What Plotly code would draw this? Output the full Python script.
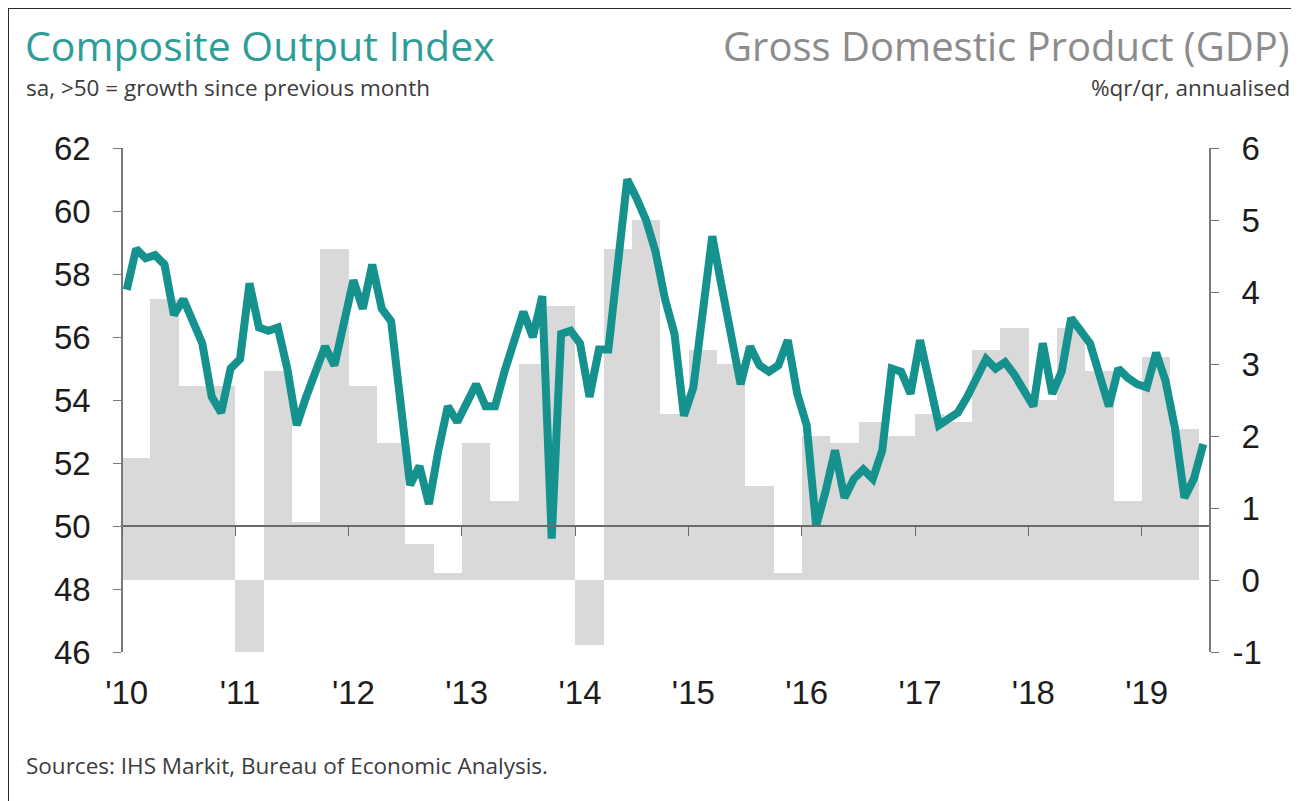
import plotly.graph_objects as go

# ---------------- data ----------------
# IHS Markit US Composite Output Index, monthly Jan 2010 .. Jul 2019
pmi = [
    57.5, 58.8, 58.5, 58.6, 58.3, 56.7, 57.2, 56.5, 55.8, 54.1, 53.6, 55.0,   # 2010
    55.3, 57.7, 56.3, 56.2, 56.3, 55.0, 53.2, 54.1, 54.9, 55.7, 55.1, 56.4,   # 2011
    57.8, 56.9, 58.3, 56.9, 56.5, 53.9, 51.3, 51.9, 50.7, 52.4, 53.8, 53.3,   # 2012
    53.9, 54.5, 53.8, 53.8, 54.9, 55.8, 56.8, 56.0, 57.3, 49.6, 56.1, 56.2,   # 2013
    55.8, 54.1, 55.6, 55.6, 58.3, 61.0, 60.4, 59.7, 58.7, 57.2, 56.1, 53.5,   # 2014
    54.4, 56.8, 59.2, 57.6, 56.1, 54.5, 55.7, 55.1, 54.9, 55.1, 55.9, 54.2,   # 2015
    53.2, 50.0, 51.1, 52.4, 50.9, 51.5, 51.8, 51.5, 52.4, 55.0, 54.9, 54.2,   # 2016
    55.9, 54.6, 53.2, 53.4, 53.6, 54.1, 54.7, 55.3, 55.0, 55.2, 54.8, 54.3,   # 2017
    53.8, 55.8, 54.2, 54.9, 56.6, 56.2, 55.8, 54.8, 53.8, 55.0, 54.7, 54.5,   # 2018
    54.4, 55.5, 54.6, 53.1, 50.9, 51.5, 52.6,                                 # 2019
]

# GDP, % q/q annualised, quarterly 2010Q1 .. 2019Q2
gdp = [
    1.7, 3.9, 2.7, 2.7,     # 2010
    -1.0, 2.9, 0.8, 4.6,    # 2011
    2.7, 1.9, 0.5, 0.1,     # 2012
    1.9, 1.1, 3.0, 3.8,     # 2013
    -0.9, 4.6, 5.0, 2.3,    # 2014
    3.2, 3.0, 1.3, 0.1,     # 2015
    2.0, 1.9, 2.2, 2.0,     # 2016
    2.3, 2.2, 3.2, 3.5,     # 2017
    2.5, 3.5, 2.9, 1.1,     # 2018
    3.1, 2.1,               # 2019
]

year_labels = ["'10", "'11", "'12", "'13", "'14", "'15", "'16", "'17", "'18", "'19"]
left_ticks = [46, 48, 50, 52, 54, 56, 58, 60, 62]
right_ticks = [-1, 0, 1, 2, 3, 4, 5, 6]

# ---------------- positions (month index from Jan 2010) ----------------
month_x = [i + 0.5 for i in range(len(pmi))]          # mid-month
quarter_x = [3 * i + 1.5 for i in range(len(gdp))]      # mid-quarter
year_x = [12 * i for i in range(len(year_labels))]      # year starts
label_x = [v + 0.5 for v in year_x]
X_RANGE = [0, 115.1]

# right-axis labels look right-aligned: pad non-negative values with a no-break space
right_text = [("\u00a0" + str(v)) if v >= 0 else str(v) for v in right_ticks]

# The page body has an 8px margin, so the figure is drawn 8px smaller and
# every target position (in window pixels) is shifted by that offset.
OFF = 8
FIG_W, FIG_H = 1299 - OFF, 801 - OFF
L, R, T, B = 122 - OFF, 1209 - OFF, 148 - OFF, 652 - OFF
W_, H_ = R - L, B - T


def px(x):
    return (x - OFF - L) / W_


def py(y):
    return (B - (y - OFF)) / H_


TEAL = "#15928e"
AXIS = "#7a7a7a"
TICKFONT = dict(family="Liberation Sans, Arial, sans-serif", size=33, color="#1c1c1c")
TEXTFONT = "Open Sans, Noto Sans, sans-serif"

fig = go.Figure()

fig.add_trace(go.Bar(
    x=quarter_x, y=gdp, width=3,
    marker=dict(color="#d9d9d9", line=dict(width=0)),
    xaxis="x", yaxis="y", showlegend=False, name="GDP",
))

fig.add_trace(go.Scatter(
    x=month_x, y=pmi, mode="lines",
    line=dict(color=TEAL, width=8),
    xaxis="x2", yaxis="y2", showlegend=False, name="Composite Output Index",
))

fig.update_layout(
    width=FIG_W, height=FIG_H,
    margin=dict(l=L, r=FIG_W - R, t=T, b=FIG_H - B),
    paper_bgcolor="white", plot_bgcolor="white",
    bargap=0,
    xaxis=dict(
        range=X_RANGE, showline=False, showgrid=False, zeroline=False,
        ticks="", tickvals=label_x, ticktext=year_labels,
        tickfont=TICKFONT, ticklabelstandoff=18,
    ),
    xaxis2=dict(
        range=X_RANGE, overlaying="x", anchor="free", position=0.25,
        showline=True, linecolor="#6a6a6a", linewidth=1.6,
        ticks="outside", ticklen=9, tickwidth=1.4, tickcolor="#6a6a6a",
        tickvals=year_x, showticklabels=False,
        showgrid=False, zeroline=False,
    ),
    yaxis=dict(
        range=[-1, 6], side="right", showline=True, linecolor=AXIS, linewidth=1.6,
        ticks="outside", ticklen=8, tickwidth=1.4, tickcolor=AXIS,
        tickvals=right_ticks, ticktext=right_text,
        tickfont=TICKFONT, ticklabelstandoff=7,
        showgrid=False, zeroline=False,
    ),
    yaxis2=dict(
        range=[46, 62], overlaying="y", side="left", anchor="free", position=0,
        showline=True, linecolor=AXIS, linewidth=1.6,
        ticks="outside", ticklen=8, tickwidth=1.4, tickcolor=AXIS,
        tickvals=left_ticks, tickfont=TICKFONT, ticklabelstandoff=16,
        showgrid=False, zeroline=False,
    ),
    annotations=[
        dict(text="Composite Output Index", x=px(23), y=py(45), xref="paper", yref="paper",
             xanchor="left", yanchor="middle", showarrow=False,
             font=dict(family=TEXTFONT, size=41, color="#2e9d97")),
        dict(text="sa, >50 = growth since previous month", x=px(24), y=py(88),
             xref="paper", yref="paper", xanchor="left", yanchor="middle", showarrow=False,
             font=dict(family=TEXTFONT, size=22.5, color="#3c3c3c")),
        dict(text="Gross Domestic Product (GDP)", x=px(1292), y=py(45), xref="paper", yref="paper",
             xanchor="right", yanchor="middle", showarrow=False,
             font=dict(family=TEXTFONT, size=40, color="#8c8c8c")),
        dict(text="%qr/qr, annualised", x=px(1292), y=py(88), xref="paper", yref="paper",
             xanchor="right", yanchor="middle", showarrow=False,
             font=dict(family=TEXTFONT, size=22.5, color="#3c3c3c")),
        dict(text="Sources: IHS Markit, Bureau of Economic Analysis.", x=px(24), y=py(765),
             xref="paper", yref="paper", xanchor="left", yanchor="middle", showarrow=False,
             font=dict(family=TEXTFONT, size=22.5, color="#3c3c3c")),
    ],
    shapes=[
        dict(type="line", xref="paper", yref="paper", x0=px(8), x1=px(8), y0=py(8), y1=py(805),
             line=dict(color="#2a2a2a", width=2)),
        dict(type="line", xref="paper", yref="paper", x0=px(8), x1=px(1302), y0=py(8), y1=py(8),
             line=dict(color="#2a2a2a", width=2)),
    ],
)

fig.write_html("out.html")
